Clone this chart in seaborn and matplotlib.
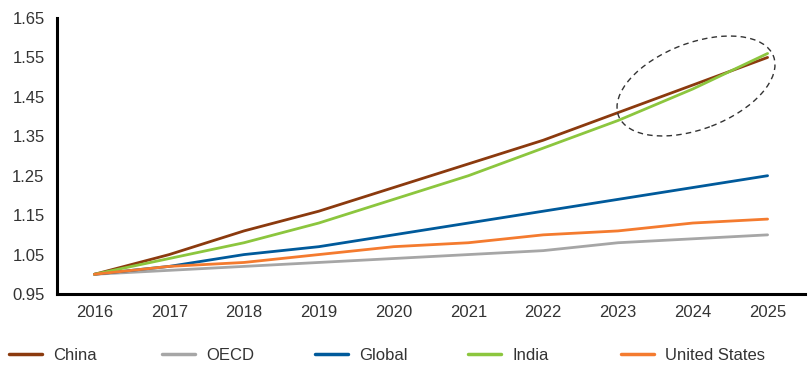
import matplotlib
matplotlib.use("Agg")
import matplotlib.pyplot as plt
import seaborn as sns
import pandas as pd
from matplotlib.patches import Ellipse
from matplotlib.lines import Line2D

years = ["2016", "2017", "2018", "2019", "2020", "2021", "2022", "2023", "2024", "2025"]
china = [1.00, 1.05, 1.11, 1.16, 1.22, 1.28, 1.34, 1.41, 1.48, 1.55]
oecd = [1.00, 1.01, 1.02, 1.03, 1.04, 1.05, 1.06, 1.08, 1.09, 1.10]
global_ = [1.00, 1.02, 1.05, 1.07, 1.10, 1.13, 1.16, 1.19, 1.22, 1.25]
india = [1.00, 1.04, 1.08, 1.13, 1.19, 1.25, 1.32, 1.39, 1.47, 1.56]
us = [1.00, 1.02, 1.03, 1.05, 1.07, 1.08, 1.10, 1.11, 1.13, 1.14]

series = ["China", "OECD", "Global", "India", "United States"]
colors = ["#8B3A0E", "#A6A6A6", "#005A9B", "#8CC63E", "#F47B2F"]
yticks = [0.95, 1.05, 1.15, 1.25, 1.35, 1.45, 1.55, 1.65]

sns.set_theme(style="white")
plt.rcParams["font.family"] = ["Liberation Sans", "DejaVu Sans"]

df = pd.DataFrame({"Year": years, "China": china, "OECD": oecd, "Global": global_,
                   "India": india, "United States": us})
long = df.melt(id_vars="Year", var_name="Series", value_name="Value")

fig = plt.figure(figsize=(8.11, 3.65), dpi=100)
ax = fig.add_axes([57/811, 1 - 294/365, (805 - 57)/811, (294 - 18)/365])

sns.lineplot(data=long, x="Year", y="Value", hue="Series", hue_order=series,
             palette=colors, linewidth=2.0, ax=ax, legend=False, sort=False)

ax.set_xlim(-0.5, len(years) - 0.5)
ax.set_ylim(0.95, 1.65)
ax.set_yticks(yticks)
ax.set_yticklabels([f"{v:.2f}" for v in yticks])
ax.set_xlabel("")
ax.set_ylabel("")
ax.tick_params(axis="both", length=0, labelsize=12, colors="#333333")
ax.tick_params(axis="y", pad=9)
ax.tick_params(axis="x", pad=8)
for s in ["top", "right"]:
    ax.spines[s].set_visible(False)
for s in ["left", "bottom"]:
    ax.spines[s].set_color("black")
    ax.spines[s].set_linewidth(2.2)
ax.grid(False)

# dashed ellipse highlighting the convergence
ell = Ellipse((6.96, 2.79), 1.66, 0.86, angle=21, transform=fig.dpi_scale_trans,
              fill=False, linestyle=(0, (4, 3)), edgecolor="#333333", linewidth=1.0)
fig.add_artist(ell)

# legend: evenly spaced entries
xs = [9, 162, 315, 468, 621]
for name, col, x0 in zip(series, colors, xs):
    h = Line2D([], [], color=col, linewidth=2.5)
    lg = fig.legend([h], [name], loc="center left",
                    bbox_to_anchor=(x0 / 811, 1 - 355/365), frameon=False,
                    fontsize=12, handlelength=2.0, handletextpad=0.65,
                    borderpad=0, borderaxespad=0)
    for t in lg.get_texts():
        t.set_color("#333333")

fig.savefig("out.png", dpi=100)
